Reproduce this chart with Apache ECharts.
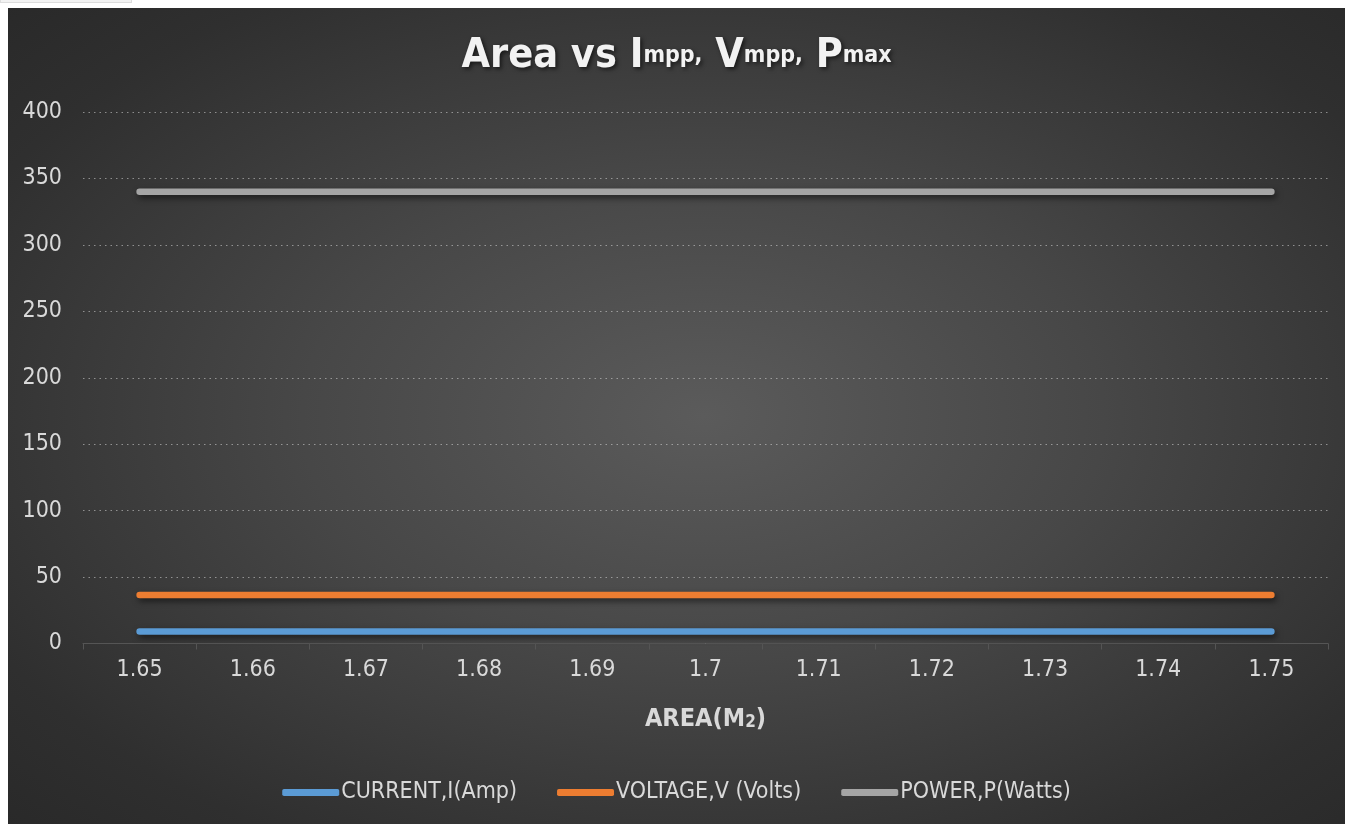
<!DOCTYPE html>
<html>
<head>
<meta charset="utf-8">
<title>Area vs Impp, Vmpp, Pmax</title>
<script src="https://cdn.jsdelivr.net/npm/echarts@6/dist/echarts.min.js"></script>
<style>
  html, body { margin: 0; padding: 0; background: #ffffff; }
  #tab { position: absolute; left: 0; top: 0; width: 130px; height: 2px; background: #f2f2f2; border: 1px solid #dcdcdc; border-top: none; }
  #chart {
    position: absolute; left: 8px; top: 8px; width: 1337px; height: 816px;
    background: radial-gradient(ellipse 75% 75% at 52% 50%, #5b5b5b 0%, #474747 40%, #2f2f2f 80%, #282828 100%);
  }
</style>
</head>
<body>
<div id="tab"></div>
<div id="chart"></div>
<script>
// Panel area in square metres
const areas = ['1.65', '1.66', '1.67', '1.68', '1.69', '1.7', '1.71', '1.72', '1.73', '1.74', '1.75'];
// Current at maximum power point (A)
const currentAmp = [9, 9, 9, 9, 9, 9, 9, 9, 9, 9, 9];
// Voltage at maximum power point (V)
const voltageVolts = [36.5, 36.5, 36.5, 36.5, 36.5, 36.5, 36.5, 36.5, 36.5, 36.5, 36.5];
// Maximum power (W)
const powerWatts = [340, 340, 340, 340, 340, 340, 340, 340, 340, 340, 340];
const seriesNames = ['CURRENT,I(Amp)', 'VOLTAGE,V (Volts)', 'POWER,P(Watts)'];
const seriesColors = ['#5b9bd5', '#ed7d31', '#a5a5a5'];

const narrow = "'DejaVu Sans Condensed', 'Liberation Sans Narrow', 'Arial Narrow', sans-serif";
const textColor = '#d9d9d9';

const chart = echarts.init(document.getElementById('chart'));

function lineSeries(name, data, color) {
  return {
    name: name,
    type: 'line',
    data: data,
    symbol: 'none',
    color: color,
    lineStyle: {
      width: 6.5,
      color: color,
      cap: 'round',
      shadowColor: 'rgba(0,0,0,0.55)',
      shadowBlur: 6,
      shadowOffsetX: 2,
      shadowOffsetY: 3
    }
  };
}

const titleShadow = {
  textShadowColor: 'rgba(0,0,0,0.6)', textShadowBlur: 4, textShadowOffsetX: 2, textShadowOffsetY: 2
};

chart.setOption({
  backgroundColor: 'transparent',
  animation: false,
  title: {
    left: 'center',
    top: 23,
    text: '{b|Area vs I}{s|mpp,}{b| V}{s|mpp,}{b| P}{s|max}',
    textStyle: {
      rich: {
        b: Object.assign({ fontFamily: narrow, fontWeight: 'bold', fontSize: 41, color: '#f2f2f2' }, titleShadow),
        s: Object.assign({ fontFamily: narrow, fontWeight: 'bold', fontSize: 23, color: '#f2f2f2' }, titleShadow)
      }
    }
  },
  legend: {
    bottom: 15,
    left: 'center',
    itemWidth: 57,
    itemHeight: 7,
    itemGap: 40,
    icon: 'roundRect',
    textStyle: { fontFamily: narrow, fontSize: 23, color: textColor, padding: [0, 0, 0, -3] },
    data: seriesNames
  },
  grid: { left: 75, right: 17, top: 104, bottom: 180.5, containLabel: false },
  xAxis: {
    type: 'category',
    data: areas,
    boundaryGap: true,
    name: '{b|AREA(M}{s|2}{b|)}',
    nameLocation: 'middle',
    nameGap: 63,
    nameTextStyle: {
      rich: {
        b: { fontFamily: narrow, fontWeight: 'bold', fontSize: 25, color: textColor },
        s: { fontFamily: narrow, fontWeight: 'bold', fontSize: 17, color: textColor, padding: [8, 0, 0, 0] }
      }
    },
    axisLine: { show: true, lineStyle: { color: '#555555', width: 1 } },
    axisTick: { show: true, length: 6, lineStyle: { color: '#555555' } },
    axisLabel: { fontFamily: narrow, fontSize: 23, color: textColor, margin: 15 },
    splitLine: { show: false }
  },
  yAxis: {
    type: 'value',
    min: 0,
    max: 400,
    interval: 50,
    axisLine: { show: false },
    axisTick: { show: false },
    axisLabel: { fontFamily: narrow, fontSize: 23, color: textColor, margin: 21 },
    splitLine: { show: true, lineStyle: { color: 'rgba(217,217,217,0.55)', width: 1, type: [1.5, 4] } }
  },
  series: [
    lineSeries(seriesNames[0], currentAmp, seriesColors[0]),
    lineSeries(seriesNames[1], voltageVolts, seriesColors[1]),
    lineSeries(seriesNames[2], powerWatts, seriesColors[2])
  ]
});
</script>
</body>
</html>
